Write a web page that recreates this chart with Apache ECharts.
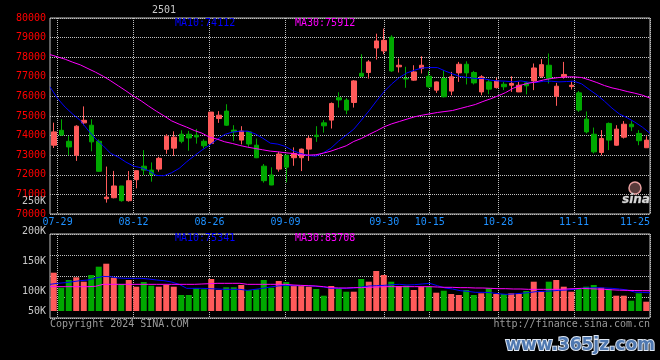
<!DOCTYPE html>
<html>
<head>
<meta charset="utf-8">
<script src="https://cdn.jsdelivr.net/npm/echarts@6/dist/echarts.min.js"></script>
<style>
html,body{margin:0;padding:0;background:#000;}
#chart{width:660px;height:360px;}
</style>
</head>
<body>
<div id="chart"></div>
<script>
const dates = [
 '07-26','07-29','07-30','07-31','08-01','08-02','08-05','08-06','08-07','08-08','08-09',
 '08-12','08-13','08-14','08-15','08-16','08-19','08-20','08-21','08-22','08-23',
 '08-26','08-27','08-28','08-29','08-30','09-02','09-03','09-04','09-05','09-06',
 '09-09','09-10','09-11','09-12','09-13','09-18','09-19','09-20','09-23','09-24','09-25','09-26','09-27',
 '09-30','10-08','10-09','10-10','10-11','10-14','10-15','10-16','10-17','10-18',
 '10-21','10-22','10-23','10-24','10-25','10-28','10-29','10-30','10-31','11-01',
 '11-04','11-05','11-06','11-07','11-08','11-11','11-12','11-13','11-14','11-15',
 '11-18','11-19','11-20','11-21','11-22','11-25'
];
const labelDates = ['07-29','08-12','08-26','09-09','09-30','10-15','10-28','11-11','11-25'];

const opens = [73510,74270,73710,73000,74650,74530,73710,70780,70830,71430,70680,71750,72440,72240,72290,73300,73360,74070,74070,74020,
 73710,73600,74870,75250,74280,73770,74190,73510,72440,71990,72290,73000,72870,72870,73310,74020,74650,74790,75930,75810,
 75690,77180,77220,78470,78320,79020,77510,76910,76830,77420,77030,76320,76910,76270,77200,77640,77220,76230,76740,76450,
 76620,76570,76230,76690,76790,77030,77590,76010,77000,76500,76180,74840,74070,73140,74620,73510,73920,74580,74110,73380];
const closes = [74190,74030,73420,74480,74780,73680,72180,70860,71430,70680,71700,72210,72240,72020,72840,73970,73920,73710,73880,73930,
 73480,75200,75040,74530,74190,74230,73570,72870,71700,71480,73060,72390,73090,73310,73860,73950,74500,75640,75820,75300,
 76790,77030,77760,78830,78860,77300,77590,76890,77250,77590,76490,76740,75980,77000,77640,77200,76690,77000,76370,76790,
 76490,76660,76570,76540,77450,77620,76910,76520,77120,76570,75300,74190,73170,73850,73770,74330,74580,74450,73740,73770];
const lows = [73370,73980,73000,72710,74530,73200,72150,70580,70800,70630,70630,71310,71990,71650,72160,73070,72970,73610,73230,73590,
 73340,73550,74650,74500,73720,73550,73430,72850,71600,71470,72160,71610,72460,72190,72710,73680,74150,74360,75430,75090,
 75430,77000,76910,77880,78150,77250,77220,76440,76800,77170,76440,76180,75950,76060,76740,76610,76610,76060,76110,76400,
 76320,76230,76220,76100,76320,76950,76660,75520,76910,76350,75210,74110,73090,73000,73260,73480,73850,74230,73510,73370];
const highs = [74660,74830,73980,74530,75490,74830,73810,72420,72200,71430,72190,72210,73260,72630,72920,74070,74220,74270,74240,74340,
 73810,75200,75250,75600,74530,74480,74240,73850,72550,72380,73170,73000,73400,73340,73980,74480,74790,75690,76210,75910,
 76830,78150,77850,79200,79460,79120,77930,77510,77590,78050,77290,76760,77340,77250,77760,77790,77300,77080,76830,76950,
 76740,77030,76740,76740,77680,77900,78190,76690,77760,76790,76280,75230,74410,74280,74670,74530,74740,74740,74280,73970];

const ma10 = [76486,75892,75450,75093,74771,74278,73837,73480,73089,72902,72648,72444,72359,72206,71968,71951,72104,72325,72665,72970,
 73259,73514,73803,74057,74176,74227,74227,74091,73871,73616,73565,73446,73225,73089,72987,72953,73123,73361,73718,74023,
 74329,74788,75263,75773,76248,76639,76962,77200,77336,77454,77471,77471,77302,77149,77013,76962,76911,76911,76826,76792,
 76775,76741,76792,76724,76707,76775,76775,76741,76758,76775,76639,76350,76079,75756,75399,75093,74907,74686,74431,74112];
const ma30 = [78134,78015,77896,77743,77607,77420,77234,77030,76792,76537,76282,76011,75773,75501,75246,75008,74754,74584,74431,74261,
 74125,73921,73820,73684,73599,73497,73412,73344,73276,73208,73174,73123,73089,73021,73004,73021,73106,73208,73344,73480,
 73701,73854,74057,74244,74448,74601,74720,74839,74958,75042,75110,75178,75229,75280,75382,75484,75586,75739,75875,76028,
 76197,76418,76571,76673,76741,76843,76911,76962,76996,76996,76962,76843,76707,76554,76435,76350,76248,76163,76062,75912];

const volumes = [158200,96200,128000,139200,121000,148700,183000,195300,137500,110300,128000,100400,119800,104500,100400,107400,100400,66100,66100,93800,
 89600,132200,86700,97900,97900,107400,86700,89600,128000,96200,123900,119800,104500,104500,100400,90900,63200,103300,93800,79700,
 79700,132200,121000,165200,148700,121000,103300,104500,86700,100400,100400,75600,83800,70200,66100,86700,66100,73100,93800,70200,
 70200,73100,70200,82600,121000,79700,121000,128000,100400,79700,90900,100400,107400,96200,89600,63200,63200,42500,73100,38400];
const volMa10 = [110100,114300,117000,121100,125300,128000,136300,142800,141700,136300,134900,134900,134900,132200,128000,125300,119700,110100,93600,93600,
 93600,92200,90900,89500,89500,89500,85300,89500,93600,99100,103300,106000,104600,104600,104600,101900,99100,93600,93600,93600,
 95000,99100,103300,104600,106000,108700,110100,107400,108700,111500,114300,104600,95000,90900,84000,81200,77100,77100,75700,71600,
 68800,70200,73000,75700,79900,81200,82600,85300,86700,89500,93600,95000,96400,95000,93600,90900,86700,78000,76500,75341];
const volMa30 = [100500,100500,100500,100500,100500,100500,101900,110100,110100,110100,110100,110100,110100,110100,110100,110100,110100,110100,110100,110100,
 111500,112900,114300,114300,114300,114300,110100,110100,110100,110100,110100,110100,107400,106000,104600,103300,100500,96400,95000,95000,
 96400,96400,97800,99100,100500,100500,100500,100500,100500,100500,100500,99100,97800,97800,96400,96400,95000,95000,93600,92200,
 92200,90900,90900,89500,89500,89500,89500,89500,90900,92200,93600,92200,90900,89500,87500,86000,85300,84600,84000,83708];

const priceTicks = {min:70000, max:80000, step:1000};
const volLabelTicks = {min:50000, max:250000, step:50000};

const MONO = 'DejaVu Sans Mono';
const UP = '#ff5a5a', DOWN = '#00a800';
const GRIDC = '#c0c0c0';
const showDate = (idx, val) => labelDates.indexOf(val) >= 0;
const dotted = {color: GRIDC, width: 1, type: [1, 1]};

const ohlc = dates.map((d, i) => [opens[i], closes[i], lows[i], highs[i]]);
const last = a => a[a.length - 1];

const chart = echarts.init(document.getElementById('chart'), null, {renderer: 'canvas'});
chart.setOption({
  backgroundColor: '#000000',
  animation: false,
  grid: [
    {left: 50, right: 10, top: 18, height: 196, show: true, borderColor: GRIDC, borderWidth: 1, backgroundColor: 'transparent'},
    {left: 50, right: 10, top: 234, height: 84, show: true, borderColor: GRIDC, borderWidth: 1, backgroundColor: 'transparent'},
    {left: 50, right: 10, top: 234, height: 77},
    {left: 50, right: 10, top: 201, height: 120}
  ],
  xAxis: [
    {type: 'category', gridIndex: 0, position: 'bottom', data: dates, boundaryGap: true, show: false},
    {type: 'category', gridIndex: 0, position: 'bottom', data: dates, boundaryGap: false,
     axisLine: {show: false}, axisTick: {show: false},
     axisLabel: {interval: showDate, color: '#1e90ff', fontFamily: MONO, fontSize: 10, margin: 3, alignMaxLabel: 'right'},
     splitLine: {show: true, interval: showDate, lineStyle: dotted}},
    {type: 'category', gridIndex: 1, position: 'bottom', data: dates, boundaryGap: false,
     axisLine: {show: false}, axisTick: {show: false}, axisLabel: {show: false},
     splitLine: {show: true, interval: showDate, lineStyle: dotted}},
    {type: 'category', gridIndex: 2, position: 'bottom', data: dates, boundaryGap: true, show: false},
    {type: 'category', gridIndex: 2, position: 'bottom', data: dates, boundaryGap: false, show: false},
    {type: 'category', gridIndex: 3, position: 'bottom', data: dates, show: false}
  ],
  yAxis: [
    {type: 'value', gridIndex: 0, min: priceTicks.min, max: priceTicks.max, interval: priceTicks.step,
     axisLine: {show: false}, axisTick: {show: false},
     axisLabel: {color: '#ff0000', fontFamily: MONO, fontSize: 10, margin: 4, formatter: v => String(v)},
     splitLine: {show: true, lineStyle: dotted}},
    {type: 'value', gridIndex: 1, min: 0, max: 4, interval: 1,
     axisLine: {show: false}, axisTick: {show: false}, axisLabel: {show: false},
     splitLine: {show: true, lineStyle: dotted}},
    {type: 'value', gridIndex: 2, min: 0, max: 318000, show: false, splitLine: {show: false}},
    {type: 'value', gridIndex: 3, min: volLabelTicks.min, max: volLabelTicks.max, interval: volLabelTicks.step,
     axisLine: {show: false}, axisTick: {show: false}, splitLine: {show: false},
     axisLabel: {color: '#c8c8c8', fontFamily: MONO, fontSize: 10, margin: 4, showMinLabel: false,
       formatter: v => (v / 1000) + 'K'}}
  ],
  series: [
    {type: 'candlestick', xAxisIndex: 0, yAxisIndex: 0, data: ohlc, barWidth: 5,
     itemStyle: {color: UP, color0: DOWN, borderColor: UP, borderColor0: DOWN, borderWidth: 1}},
    {type: 'line', xAxisIndex: 1, yAxisIndex: 0, data: ma10, symbol: 'none', z: 5,
     lineStyle: {color: '#0000ff', width: 1}},
    {type: 'line', xAxisIndex: 1, yAxisIndex: 0, data: ma30, symbol: 'none', z: 5,
     lineStyle: {color: '#ff00ff', width: 1}},
    {type: 'bar', xAxisIndex: 3, yAxisIndex: 2, data: volumes, barWidth: 6,
     itemStyle: {color: p => closes[p.dataIndex] >= opens[p.dataIndex] ? UP : DOWN}},
    {type: 'line', xAxisIndex: 4, yAxisIndex: 2, data: volMa10, symbol: 'none', z: 5,
     lineStyle: {color: '#0000ff', width: 1}},
    {type: 'line', xAxisIndex: 4, yAxisIndex: 2, data: volMa30, symbol: 'none', z: 5,
     lineStyle: {color: '#ff00ff', width: 1}}
  ],
  graphic: [
    {type: 'text', x: 164, y: 10, z: 20, style: {text: '2501', fill: '#c8c8c8', font: '10px ' + MONO, align: 'center', verticalAlign: 'middle'}},
    {type: 'text', x: 175, y: 23, z: 20, style: {text: 'MA10:' + last(ma10), fill: '#0000ff', font: '10px ' + MONO, verticalAlign: 'middle'}},
    {type: 'text', x: 295, y: 23, z: 20, style: {text: 'MA30:' + last(ma30), fill: '#ff00ff', font: '10px ' + MONO, verticalAlign: 'middle'}},
    {type: 'text', x: 175, y: 238, z: 20, style: {text: 'MA10:' + last(volMa10), fill: '#0000ff', font: '10px ' + MONO, verticalAlign: 'middle'}},
    {type: 'text', x: 295, y: 238, z: 20, style: {text: 'MA30:' + last(volMa30), fill: '#ff00ff', font: '10px ' + MONO, verticalAlign: 'middle'}},
    {type: 'text', x: 46, y: 311, z: 20, style: {text: '50K', fill: '#c8c8c8', font: '10px ' + MONO, align: 'right', verticalAlign: 'middle'}},
    {type: 'text', x: 50, y: 324, z: 20, style: {text: 'Copyright 2024 SINA.COM', fill: '#9a9a9a', font: '10px ' + MONO, verticalAlign: 'middle'}},
    {type: 'text', x: 650, y: 324, z: 20, style: {text: 'http://finance.sina.com.cn', fill: '#9a9a9a', font: '10px ' + MONO, align: 'right', verticalAlign: 'middle'}},
    {type: 'circle', z: 20, shape: {cx: 635, cy: 188, r: 6}, style: {fill: 'rgba(255,170,170,0.35)', stroke: '#e9a0a0', lineWidth: 1.5}},
    {type: 'text', x: 636, y: 200, z: 21, style: {text: 'sina', fill: '#d8d8d8', font: 'italic bold 12px DejaVu Sans', align: 'center', verticalAlign: 'middle', stroke: '#888', lineWidth: 0.5}},
    {type: 'text', x: 655, y: 346, z: 20, style: {text: 'www.365jz.com', fill: '#4f78b0', font: 'bold 17px DejaVu Sans', align: 'right', verticalAlign: 'middle', stroke: '#dfe7f2', lineWidth: 2}}
  ]
});
</script>
</body>
</html>
